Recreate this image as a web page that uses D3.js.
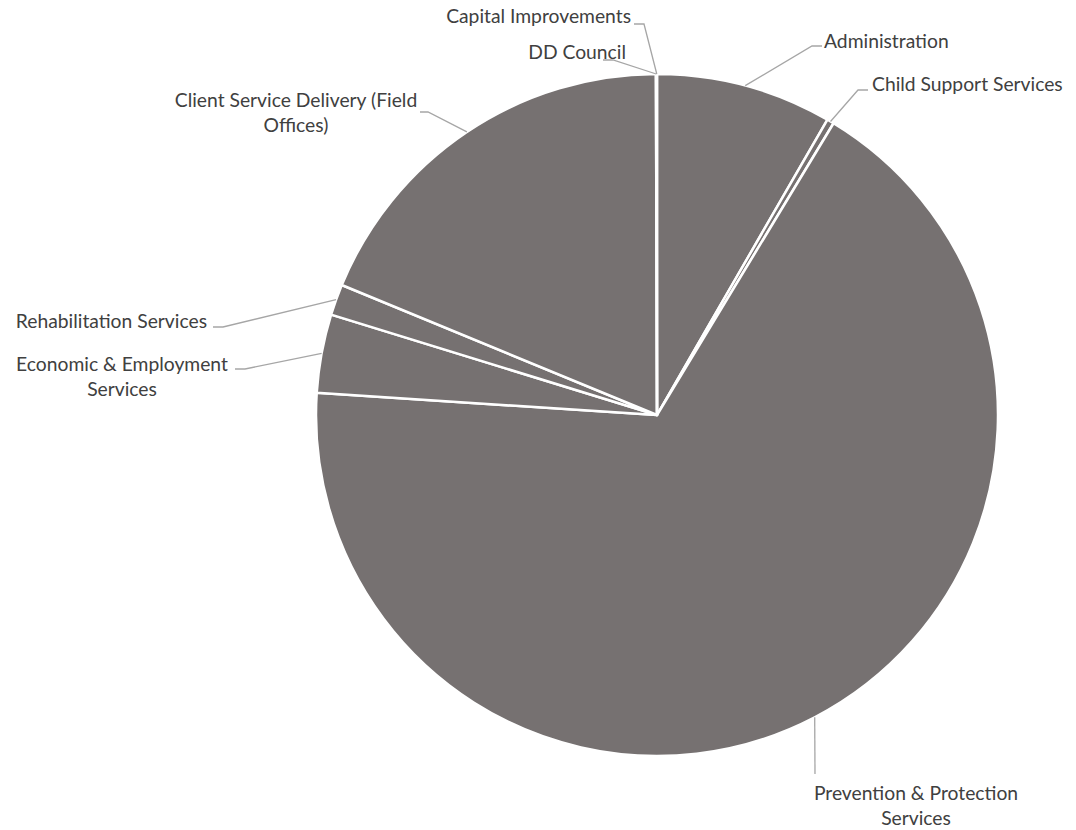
<!DOCTYPE html>
<html>
<head>
<meta charset="utf-8">
<script src="https://d3js.org/d3.v7.min.js"></script>
<style>
  body { margin: 0; background: #fff; }
  text { font-family: Lato, 'Open Sans', sans-serif; font-size: 19.3px; fill: #404040; }
</style>
</head>
<body>
<script>
// data, clockwise from 12 o'clock
var categories = ['Administration', 'Child Support Services', 'Prevention & Protection Services',
  'Economic & Employment Services', 'Rehabilitation Services',
  'Client Service Delivery (Field Offices)', 'DD Council', 'Capital Improvements']
var values = [8.33, 0.33, 67.36, 3.72, 1.47, 18.72, 0.03, 0.02]
var labelLines = [['Administration'], ['Child Support Services'], ['Prevention & Protection', 'Services'],
  ['Economic & Employment', 'Services'], ['Rehabilitation Services'],
  ['Client Service Delivery (Field', 'Offices)'], ['DD Council'], ['Capital Improvements']]

var w = 1076, h = 830
var cx = 657, cy = 415, r = 341

// label placement: text anchor point, elbow and end of the leader
var labelPos = [
  { x: 824, y: 41, anchor: 'start', elbow: [812, 46], end: [822, 46] },
  { x: 872, y: 84, anchor: 'start', elbow: [858, 90], end: [868, 90] },
  { x: 916, y: 793, anchor: 'middle', elbow: null, end: [815, 774] },
  { x: 122, y: 364, anchor: 'middle', elbow: [245, 369], end: [235, 369] },
  { x: 207, y: 321, anchor: 'end', elbow: [223, 327], end: [213, 327] },
  { x: 296, y: 100, anchor: 'middle', elbow: [428, 112], end: [420, 112] },
  { x: 626, y: 52, anchor: 'end', elbow: [613, 60], end: [603, 60] },
  { x: 631, y: 16, anchor: 'end', elbow: [644, 24], end: [634, 24] }
]

var svg = d3.select('body').append('svg').attr('width', w).attr('height', h)
var g = svg.append('g').attr('transform', 'translate(' + cx + ',' + cy + ')')

var pie = d3.pie().sort(null).value(function(d) { return d })
var arcs = pie(values)
var arc = d3.arc().innerRadius(0).outerRadius(r)

g.selectAll('path.slice')
  .data(arcs)
  .enter()
  .append('path')
  .attr('class', 'slice')
  .attr('d', arc)
  .attr('fill', '#767171')
  .attr('stroke', '#fff')
  .attr('stroke-width', 2.5)
  .attr('stroke-linejoin', 'round')

// leader lines
g.selectAll('polyline')
  .data(arcs)
  .enter()
  .append('polyline')
  .attr('points', function(d, i) {
    var p = labelPos[i]
    var a = (d.startAngle + d.endAngle) / 2
    var pts = [[Math.sin(a) * r, -Math.cos(a) * r]]
    if (p.elbow) pts.push([p.elbow[0] - cx, p.elbow[1] - cy])
    pts.push([p.end[0] - cx, p.end[1] - cy])
    return pts.map(function(q) { return q.join(',') }).join(' ')
  })
  .attr('fill', 'none')
  .attr('stroke', '#a6a6a6')
  .attr('stroke-width', 1.3)

var labels = svg.selectAll('text.lbl')
  .data(arcs)
  .enter()
  .append('text')
  .attr('class', 'lbl')
  .attr('text-anchor', function(d, i) { return labelPos[i].anchor })

labels.each(function(d, i) {
  var p = labelPos[i]
  d3.select(this).selectAll('tspan')
    .data(labelLines[i])
    .enter()
    .append('tspan')
    .attr('x', p.x)
    .attr('y', function(t, j) { return p.y + j * 25.5 })
    .attr('dy', '0.35em')
    .text(function(t) { return t })
})
</script>
</body>
</html>
